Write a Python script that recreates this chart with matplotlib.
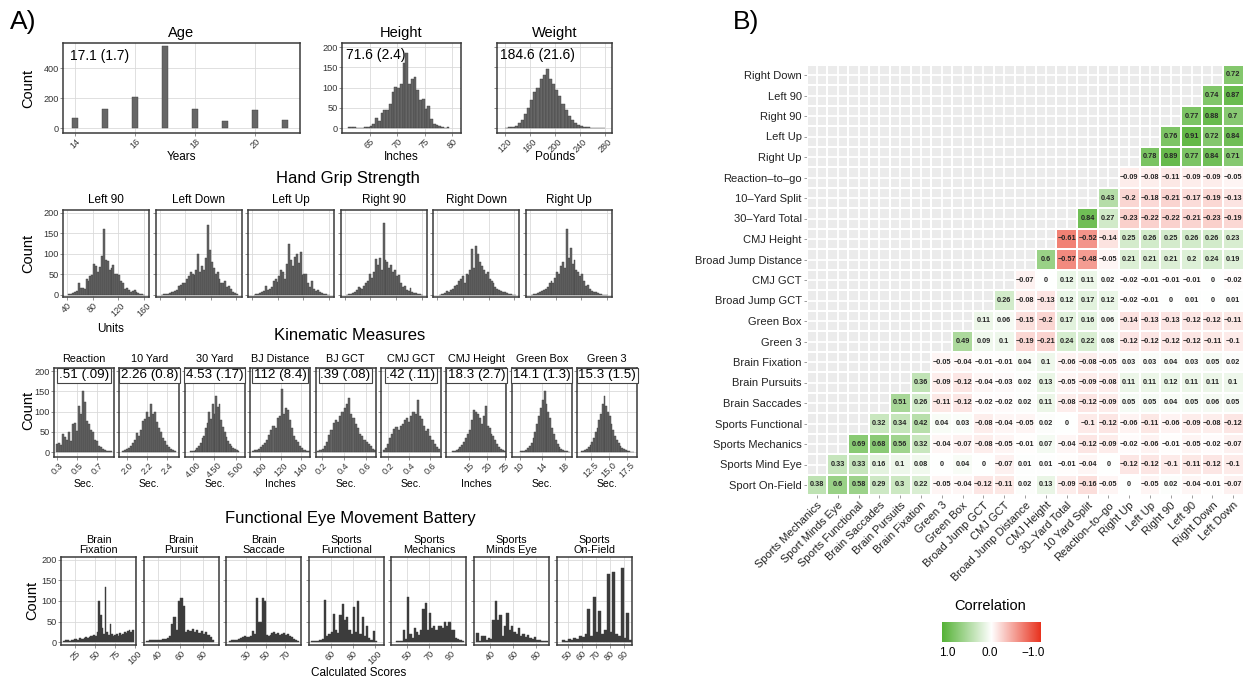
import numpy as np
import matplotlib
matplotlib.use("Agg")
import matplotlib.pyplot as plt
from matplotlib.colors import LinearSegmentedColormap, Normalize

plt.rcParams["font.family"] = ["Liberation Sans", "DejaVu Sans"]

# ---------------- data: panel A histograms (counts per bin) ----------------
age_years = [14, 15, 16, 17, 18, 19, 20, 21]
age_counts = [67, 127, 211, 549, 131, 49, 122, 51]

height_start, height_width = 61.0, 0.5
height_counts = [2, 2, 2, 0, 0, 1, 2, 3, 5, 10, 25, 18, 38, 45, 45, 60, 90, 102, 98,
                 110, 160, 185, 110, 120, 125, 95, 70, 72, 48, 55, 22, 10, 8, 5, 2, 1, 2]

weight_start, weight_width = 120, 5
weight_counts = [1, 2, 3, 5, 12, 20, 35, 50, 70, 90, 100, 120, 130, 145, 120, 110, 95,
                 80, 60, 45, 30, 20, 12, 8, 5, 3, 2, 1, 1, 0, 0, 1]

grip_names = ["Left 90", "Left Down", "Left Up", "Right 90", "Right Down", "Right Up"]
grip_start, grip_width = 42, 3
grip_counts = [
    [2, 3, 4, 6, 10, 28, 16, 17, 15, 40, 35, 45, 48, 75, 70, 55, 68, 95, 160, 85,
     82, 60, 65, 72, 52, 50, 48, 35, 30, 14, 18, 12, 8, 10, 12, 6, 4, 3, 2, 1],
    [1, 2, 3, 3, 5, 8, 6, 10, 12, 22, 25, 30, 28, 38, 45, 55, 50, 48, 60, 100,
     55, 70, 62, 90, 170, 110, 80, 65, 50, 55, 40, 30, 28, 35, 20, 22, 15, 8, 5, 3],
    [1, 2, 3, 5, 8, 10, 22, 12, 15, 20, 35, 40, 32, 45, 60, 55, 40, 75, 125, 85,
     70, 92, 100, 78, 105, 48, 50, 50, 30, 20, 35, 15, 10, 12, 8, 5, 3, 2, 1, 1],
    [1, 2, 3, 4, 8, 12, 20, 18, 15, 22, 30, 35, 50, 42, 55, 88, 72, 90, 60, 175,
     85, 80, 65, 72, 55, 62, 45, 48, 30, 20, 22, 12, 10, 18, 8, 5, 4, 3, 2, 1],
    [1, 2, 3, 5, 10, 8, 12, 15, 22, 25, 35, 40, 45, 30, 50, 48, 60, 112, 65, 120,
     100, 80, 70, 60, 50, 55, 40, 35, 28, 20, 15, 12, 10, 8, 6, 5, 3, 2, 1, 1],
    [1, 2, 3, 4, 6, 10, 12, 15, 20, 28, 35, 30, 42, 55, 50, 70, 80, 65, 160, 90,
     115, 75, 85, 60, 55, 45, 50, 35, 22, 25, 15, 10, 8, 6, 5, 3, 2, 1, 1, 1],
]

kin_names = ["Reaction", "10 Yard", "30 Yard", "BJ Distance", "BJ GCT",
             "CMJ GCT", "CMJ Height", "Green Box", "Green 3"]
kin_stats = [".51 (.09)", "2.26 (0.8)", "4.53 (.17)", "112 (8.4)", ".39 (.08)",
             ".42 (.11)", "18.3 (2.7)", "14.1 (1.3)", "15.3 (1.5)"]
kin_units = ["Sec.", "Sec.", "Sec.", "Inches", "Sec.", "Sec.", "Inches", "Sec.", "Sec."]
kin_starts = [0.29, 1.95, 3.92, 92, 0.16, 0.15, 10, 10, 11]
kin_widths = [0.02, 0.02, 0.04, 2, 0.02, 0.02, 0.55, 0.33, 0.25]
kin_counts = [
    [20, 22, 18, 45, 38, 30, 50, 28, 70, 72, 52, 115, 95, 150, 125, 78, 70, 55, 50, 30,
     28, 15, 12, 8, 5, 3, 3, 2],
    [3, 5, 8, 10, 15, 22, 30, 48, 40, 55, 78, 82, 100, 88, 120, 95, 100, 75, 60, 50,
     35, 28, 18, 12, 8, 5, 3],
    [2, 3, 4, 6, 10, 15, 22, 35, 40, 60, 72, 100, 82, 118, 95, 140, 112, 118, 80, 62,
     50, 38, 28, 20, 15, 10, 7, 5, 3],
    [3, 5, 5, 8, 12, 18, 22, 30, 42, 55, 65, 60, 85, 90, 155, 95, 110, 105, 80, 60,
     40, 30, 25, 15, 10, 6, 4, 2],
    [3, 5, 8, 15, 25, 42, 55, 72, 80, 75, 90, 100, 110, 120, 135, 95, 85, 70, 60, 45,
     40, 30, 25, 20, 15, 8, 5],
    [5, 10, 20, 35, 45, 58, 62, 55, 65, 70, 80, 85, 75, 90, 100, 95, 130, 90, 82, 65,
     52, 58, 40, 30, 20, 12, 8],
    [2, 3, 5, 8, 12, 18, 25, 35, 45, 55, 80, 105, 100, 95, 85, 70, 90, 115, 65, 60,
     45, 40, 30, 20, 12, 8, 5, 3],
    [2, 3, 4, 6, 10, 15, 22, 35, 50, 70, 90, 110, 130, 150, 120, 100, 85, 60, 45, 30,
     20, 12, 8, 5, 3, 2, 1],
    [2, 3, 5, 8, 12, 18, 25, 35, 50, 60, 80, 95, 120, 140, 115, 100, 90, 70, 55, 40,
     30, 22, 15, 10, 7, 5, 3, 2, 1, 1],
]
kin_xlims = [(0.27, 0.87), (1.92, 2.52), (3.81, 5.21), (90.5, 148.5), (0.145, 0.69),
             (0.133, 0.70), (8.5, 25.5), (8.6, 19.3), (10.5, 19.0)]
kin_ticks = [[0.3, 0.5, 0.7], [2.0, 2.2, 2.4], [4.0, 4.5, 5.0], [100, 120, 140],
             [0.2, 0.4, 0.6], [0.2, 0.4, 0.6], [15, 20, 25], [10, 14, 18], [12.5, 15.0, 17.5]]
kin_ticklabels = [["0.3", "0.5", "0.7"], ["2.0", "2.2", "2.4"], ["4.00", "4.50", "5.00"],
                  ["100", "120", "140"], ["0.2", "0.4", "0.6"], ["0.2", "0.4", "0.6"],
                  ["15", "20", "25"], ["10", "14", "18"], ["12.5", "15.0", "17.5"]]

eye_names = ["Brain\nFixation", "Brain\nPursuit", "Brain\nSaccade", "Sports\nFunctional",
             "Sports\nMechanics", "Sports\nMinds Eye", "Sports\nOn-Field"]
eye_starts = [10, 30, 12, 42, 40, 28, 46]
eye_counts = [
    [3, 4, 5, 5, 3, 6, 5, 7, 8, 6, 10, 8, 7, 9, 12, 10, 12, 15, 14, 18, 15, 25, 100, 65,
     35, 20, 135, 25, 18, 45, 20, 15, 18, 20, 15, 22, 18, 20, 25, 22, 28, 30, 25, 30],
    [3, 4, 5, 4, 6, 5, 6, 8, 7, 10, 15, 45, 62, 30, 100, 108, 88, 25, 30, 28, 32, 25,
     30, 22, 28, 20, 25, 18, 12, 5],
    [3, 4, 5, 5, 6, 8, 10, 12, 14, 12, 12, 15, 28, 20, 108, 48, 50, 108, 100, 18, 15,
     18, 22, 25, 20, 22, 18, 20, 22, 18, 20, 15, 12, 8, 5, 3],
    [2, 2, 3, 3, 5, 8, 103, 15, 20, 25, 68, 30, 22, 67, 92, 55, 60, 30, 20, 85, 25, 100,
     20, 60, 15, 40, 10, 5, 28, 3],
    [2, 3, 3, 30, 8, 110, 20, 10, 35, 25, 18, 30, 80, 95, 30, 70, 35, 40, 30, 38, 40, 35,
     50, 38, 50, 30, 30, 10, 8, 5, 2],
    [22, 3, 15, 15, 5, 10, 8, 55, 100, 55, 65, 15, 40, 70, 30, 40, 25, 20, 35, 15, 20,
     12, 18, 10, 8, 12, 5, 6, 3, 2, 2],
    [5, 3, 8, 5, 10, 8, 15, 12, 20, 80, 15, 110, 25, 75, 20, 30, 165, 25, 170, 20, 15,
     180, 10, 70, 5],
]
eye_xlims = [(7.5, 101), (27.5, 94), (9.5, 86.5), (40.4, 108), (35.5, 104.5), (26, 91), (42, 95.7)]
eye_ticks = [[25, 50, 75, 100], [40, 60, 80], [30, 50, 70], [60, 80, 100], [50, 70, 90],
             [40, 60, 80], [50, 60, 70, 80, 90]]

# ---------------- data: panel B correlation matrix ----------------
row_labels = ["Sport On-Field", "Sports Mind Eye", "Sports Mechanics", "Sports Functional",
              "Brain Saccades", "Brain Pursuits", "Brain Fixation", "Green 3", "Green Box",
              "Broad Jump GCT", "CMJ GCT", "Broad Jump Distance", "CMJ Height",
              "30\u2013Yard Total", "10\u2013Yard Split", "Reaction\u2013to\u2013go",
              "Right Up", "Left Up", "Right 90", "Left 90", "Right Down"]
col_labels = ["Sports Mechanics", "Sport Minds Eye", "Sports Functional", "Brain Saccades",
              "Brain Pursuits", "Brain Fixation", "Green 3", "Green Box", "Broad Jump GCT",
              "CMJ GCT", "Broad Jump Distance", "CMJ Height", "30\u2013Yard Total",
              "10 Yard Split", "Reaction\u2013to\u2013go", "Right Up", "Left Up", "Right 90",
              "Left 90", "Right Down", "Left Down"]
# row k (bottom = 0) holds columns k..20
corr_rows = [
    [0.38, 0.6, 0.58, 0.29, 0.3, 0.22, -0.05, -0.04, -0.12, -0.11, 0.02, 0.13, -0.09, -0.16,
     -0.05, 0, -0.05, 0.02, -0.04, -0.01, -0.07],
    [0.33, 0.33, 0.16, 0.1, 0.08, 0, 0.04, 0, -0.07, 0.01, 0.01, -0.01, -0.04, 0, -0.12,
     -0.12, -0.1, -0.11, -0.12, -0.1],
    [0.69, 0.68, 0.56, 0.32, -0.04, -0.07, -0.08, -0.05, -0.01, 0.07, -0.04, -0.12, -0.09,
     -0.02, -0.06, -0.01, -0.05, -0.02, -0.07],
    [0.32, 0.34, 0.42, 0.04, 0.03, -0.08, -0.04, -0.05, 0.02, 0, -0.1, -0.12, -0.06, -0.11,
     -0.06, -0.09, -0.08, -0.12],
    [0.51, 0.26, -0.11, -0.12, -0.02, -0.02, 0.02, 0.11, -0.08, -0.12, -0.09, 0.05, 0.05,
     0.04, 0.05, 0.06, 0.05],
    [0.36, -0.09, -0.12, -0.04, -0.03, 0.02, 0.13, -0.05, -0.09, -0.08, 0.11, 0.11, 0.12,
     0.11, 0.11, 0.1],
    [-0.05, -0.04, -0.01, -0.01, 0.04, 0.1, -0.06, -0.08, -0.05, 0.03, 0.03, 0.04, 0.03,
     0.05, 0.02],
    [0.49, 0.09, 0.1, -0.19, -0.21, 0.24, 0.22, 0.08, -0.12, -0.12, -0.12, -0.12, -0.11, -0.1],
    [0.11, 0.06, -0.15, -0.2, 0.17, 0.16, 0.06, -0.14, -0.13, -0.13, -0.12, -0.12, -0.11],
    [0.26, -0.08, -0.13, 0.12, 0.17, 0.12, -0.02, -0.01, 0, 0.01, 0, 0.01],
    [-0.07, 0, 0.12, 0.11, 0.02, -0.02, -0.01, -0.01, -0.01, 0, -0.02],
    [0.6, -0.57, -0.48, -0.05, 0.21, 0.21, 0.21, 0.2, 0.24, 0.19],
    [-0.61, -0.52, -0.14, 0.25, 0.26, 0.25, 0.26, 0.26, 0.23],
    [0.84, 0.27, -0.23, -0.22, -0.22, -0.21, -0.23, -0.19],
    [0.43, -0.2, -0.18, -0.21, -0.17, -0.19, -0.13],
    [-0.09, -0.08, -0.11, -0.09, -0.09, -0.05],
    [0.78, 0.89, 0.77, 0.84, 0.71],
    [0.76, 0.91, 0.72, 0.84],
    [0.77, 0.88, 0.7],
    [0.74, 0.87],
    [0.72],
]

# ---------------- drawing ----------------
W, H = 1252, 681
fig = plt.figure(figsize=(W / 100, H / 100), dpi=100)
BAR = "#666666"
EDGE = "#3c3c3c"


def px_axes(x0, y0, x1, y1):
    return fig.add_axes([x0 / W, 1 - y1 / H, (x1 - x0) / W, (y1 - y0) / H])


def ftext(x, y, s, **kw):
    fig.text(x / W, 1 - y / H, s, **kw)


def hist_panel(box, edges, width, counts, xlim, ylim, xticks, xticklabels=None,
               yticks=None, ylabels=False, show_x=True, barcolor=BAR):
    ax = px_axes(*box)
    ax.bar(edges, counts, width=width, align="edge", color=barcolor, edgecolor=EDGE,
           linewidth=0.3, zorder=2)
    ax.set_xlim(*xlim)
    ax.set_ylim(*ylim)
    ax.set_xticks(xticks)
    if show_x:
        ax.set_xticklabels(xticklabels if xticklabels else [str(t) for t in xticks],
                           rotation=45, ha="center", va="top")
    else:
        ax.set_xticklabels([])
    if yticks is not None:
        ax.set_yticks(yticks)
    if not ylabels:
        ax.set_yticklabels([])
    ax.grid(color="#dadada", linewidth=0.6, zorder=0)
    ax.set_axisbelow(True)
    for s in ax.spines.values():
        s.set_color("#3a3a3a")
        s.set_linewidth(1.1)
    ax.tick_params(labelsize=6.6, length=2, width=0.5, color="#666666", pad=0.8,
                   labelcolor="#333333")
    return ax


def seq(start, width, n):
    return start + width * np.arange(n)


ftext(10, 22, "A)", fontsize=19, va="center")
ftext(733, 22, "B)", fontsize=19, va="center")

# Age / Height / Weight
ax = hist_panel((63, 43, 300, 133), np.array(age_years) - 0.09, 0.18, age_counts,
                (13.6, 21.5), (-33, 571), [14, 16, 18, 20], yticks=[0, 200, 400], ylabels=True)
ax.text(0.03, 0.93, "17.1 (1.7)", transform=ax.transAxes, fontsize=10, va="top")
ftext(181, 33, "Age", fontsize=10.5, ha="center", va="center")
ftext(181, 157, "Years", fontsize=8.5, ha="center", va="center")
ftext(28, 88, "Count", fontsize=10.5, rotation=90, ha="center", va="center")

ax = hist_panel((342, 43, 461, 133), seq(height_start, height_width, len(height_counts)),
                height_width, height_counts, (60, 81.6), (-12, 210), [65, 70, 75, 80],
                yticks=[0, 50, 100, 150, 200], ylabels=True)
ax.text(0.03, 0.94, "71.6 (2.4)", transform=ax.transAxes, fontsize=10, va="top")
ftext(401, 33, "Height", fontsize=10.5, ha="center", va="center")
ftext(401, 157, "Inches", fontsize=8.5, ha="center", va="center")

ax = hist_panel((497, 43, 612, 133), seq(weight_start, weight_width, len(weight_counts)),
                weight_width, weight_counts, (107, 291), (-12, 210),
                [120, 160, 200, 240, 280], yticks=[0, 50, 100, 150, 200])
ax.text(0.03, 0.94, "184.6 (21.6)", transform=ax.transAxes, fontsize=10, va="top")
ftext(555, 33, "Weight", fontsize=10.5, ha="center", va="center")
ftext(555, 157, "Pounds", fontsize=8.5, ha="center", va="center")

# Hand grip
ftext(348, 178, "Hand Grip Strength", fontsize=12, ha="center", va="center")
ftext(28, 253, "Count", fontsize=10.5, rotation=90, ha="center", va="center")
ftext(111, 329, "Units", fontsize=8.5, ha="center", va="center")
for i, name in enumerate(grip_names):
    x0 = 63 + 92.6 * i
    hist_panel((x0, 210, x0 + 86, 297), seq(grip_start, grip_width, len(grip_counts[i])),
               grip_width, grip_counts[i], (33.7, 168), (-5, 207), [40, 80, 120, 160],
               yticks=[0, 50, 100, 150, 200], ylabels=(i == 0), show_x=(i == 0))
    ftext(x0 + 43, 200, name, fontsize=8.5, ha="center", va="center")

# Kinematic
ftext(350, 335, "Kinematic Measures", fontsize=12, ha="center", va="center")
ftext(28, 410, "Count", fontsize=10.5, rotation=90, ha="center", va="center")
for i, name in enumerate(kin_names):
    x0 = 54 + 65.4 * i
    ax = hist_panel((x0, 368, x0 + 60, 457), seq(kin_starts[i], kin_widths[i], len(kin_counts[i])),
                    kin_widths[i], kin_counts[i], kin_xlims[i], (-12, 208), kin_ticks[i],
                    kin_ticklabels[i], yticks=[0, 50, 100, 150, 200], ylabels=(i == 0))
    ax.text(0.5, 0.985, kin_stats[i], transform=ax.transAxes, fontsize=9.6, ha="center",
            va="top", zorder=5,
            bbox=dict(boxstyle="square,pad=0.12", fc="white", ec="#444444", lw=0.8))
    ftext(x0 + 30, 359, name, fontsize=7.8, ha="center", va="center")
    ftext(x0 + 30, 484, kin_units[i], fontsize=7.5, ha="center", va="center")

# Eye movement
ftext(350, 518, "Functional Eye Movement Battery", fontsize=12, ha="center", va="center")
ftext(32, 600, "Count", fontsize=10.5, rotation=90, ha="center", va="center")
ftext(359, 673, "Calculated Scores", fontsize=8.5, ha="center", va="center")
for i, name in enumerate(eye_names):
    x0 = 61 + 82.6 * i
    hist_panel((x0, 557, x0 + 75, 645), seq(eye_starts[i], 2, len(eye_counts[i])), 2,
               eye_counts[i], eye_xlims[i], (-7, 207), eye_ticks[i],
               yticks=[0, 50, 100, 150, 200], ylabels=(i == 0), barcolor="#3c3c3c")
    ftext(x0 + 37.5, 545, name, fontsize=7.8, ha="center", va="center", linespacing=1.1)

# ---------------- panel B heatmap ----------------
n = len(col_labels)
mat = np.full((n, n), np.nan)
for k, vals in enumerate(corr_rows):
    mat[k, k:k + len(vals)] = vals

cmap = LinearSegmentedColormap.from_list("corr", ["#e8321e", "#ffffff", "#55b236"])
norm = Normalize(-1, 1)

axh = px_axes(806.6, 64.75, 1243.6, 495.25)
axh.set_facecolor("#ebebeb")
axh.pcolormesh(np.arange(n + 1) - 0.5, np.arange(n + 1) - 0.5, np.ma.masked_invalid(mat),
               cmap=cmap, norm=norm, edgecolors="white", linewidth=0.3, zorder=2)
axh.set_xlim(-0.5, n - 0.5)
axh.set_ylim(-0.5, n - 0.5)
axh.set_xticks(range(n))
axh.set_yticks(range(n))
axh.set_xticklabels(col_labels, rotation=45, ha="right", rotation_mode="anchor")
axh.set_yticklabels(row_labels)
axh.grid(color="white", linewidth=1.3, zorder=0)
axh.set_axisbelow(True)
for s in axh.spines.values():
    s.set_visible(False)
axh.tick_params(labelsize=8, length=2, width=0.5, color="#777777", pad=1.5, labelcolor="#222222")


def fmt(v):
    s = f"{v:.2f}".rstrip("0").rstrip(".")
    if s in ("-0", ""):
        s = "0"
    return s.replace("-", "\u2212")


for k in range(n):
    for c in range(n):
        if not np.isnan(mat[k, c]):
            axh.text(c, k, fmt(mat[k, c]), ha="center", va="center", fontsize=5.3,
                     fontweight="bold", color="#262626", zorder=3)

# legend
ftext(990, 606, "Correlation", fontsize=10.5, ha="center", va="center")
axc = px_axes(942, 622, 1040, 642)
axc.imshow(np.linspace(1, -1, 256)[None, :], cmap=cmap, norm=norm, aspect="auto")
axc.axis("off")
ftext(947, 653, "1.0", fontsize=8.5, ha="center", va="center")
ftext(990, 653, "0.0", fontsize=8.5, ha="center", va="center")
ftext(1033, 653, "\u22121.0", fontsize=8.5, ha="center", va="center")

fig.savefig("out.png", dpi=100)
